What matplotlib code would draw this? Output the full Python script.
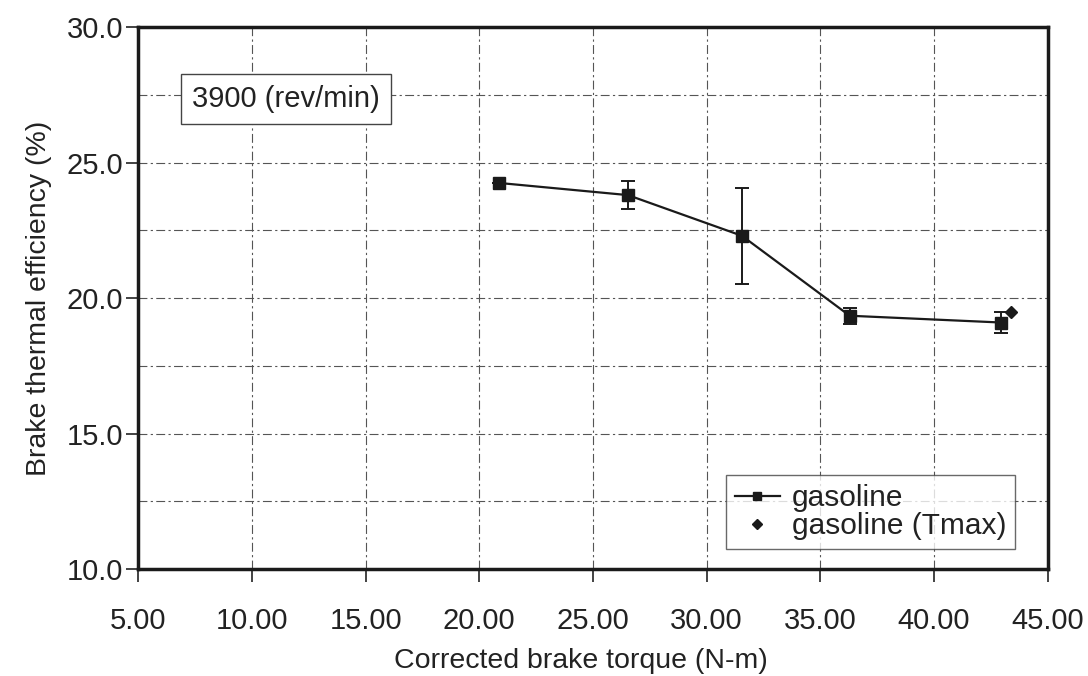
import matplotlib
matplotlib.use("Agg")
import matplotlib.pyplot as plt
from matplotlib.ticker import MultipleLocator, FormatStrFormatter
from matplotlib.lines import Line2D

plt.rcParams['font.family'] = ['Liberation Sans', 'DejaVu Sans']

torque = [20.85, 26.54, 31.55, 36.29, 42.94]
efficiency = [24.25, 23.80, 22.30, 19.35, 19.10]
err = [0.0, 0.53, 1.78, 0.30, 0.40]
tmax_torque = [43.38]
tmax_eff = [19.50]

xticks = [5, 10, 15, 20, 25, 30, 35, 40, 45]
yticks = [10, 15, 20, 25, 30]

fig = plt.figure(figsize=(10.88, 6.76), dpi=100)
ax = fig.add_axes([0.127, 0.158, 0.836, 0.802])

ax.errorbar(torque, efficiency, yerr=err, color='#1a1a1a', lw=1.6,
            marker='s', markersize=8, capsize=5, elinewidth=1.4,
            capthick=1.4, zorder=3)
ax.plot(tmax_torque, tmax_eff, linestyle='none', marker='D', markersize=6.5,
        color='#1a1a1a', zorder=3)

ax.set_xlim(5, 45)
ax.set_ylim(10, 30)
ax.set_xticks(xticks)
ax.set_yticks(yticks)
ax.xaxis.set_major_formatter(FormatStrFormatter('%.2f'))
ax.yaxis.set_major_formatter(FormatStrFormatter('%.1f'))
ax.yaxis.set_minor_locator(MultipleLocator(2.5))
ax.tick_params(axis='both', which='major', labelsize=21, direction='out',
               length=9, width=1.2, colors='#222222')
ax.tick_params(axis='x', which='major', pad=18)
ax.tick_params(axis='y', which='major', pad=2)
ax.tick_params(axis='y', which='minor', length=0)
ax.grid(True, which='major', axis='x', linestyle=(0, (8, 3, 2, 3)),
        color='#555555', lw=0.8)
ax.grid(True, which='both', axis='y', linestyle=(0, (8, 3, 2, 3)),
        color='#555555', lw=0.8)
for s in ax.spines.values():
    s.set_linewidth(2.5)
    s.set_color('#1a1a1a')

ax.set_xlabel('Corrected brake torque (N-m)', fontsize=20.5, color='#222222')
ax.xaxis.set_label_coords(0.487, -0.146)
ax.set_ylabel('Brake thermal efficiency (%)', fontsize=20.5, color='#222222',
              labelpad=10)

ax.text(11.5, 27.35, '3900 (rev/min)', fontsize=21, color='#222222',
        ha='center', va='center',
        bbox=dict(boxstyle='square,pad=0.38', fc='white', ec='#444444', lw=1))

handles = [
    Line2D([], [], color='#1a1a1a', lw=1.6, marker='s', markersize=6),
    Line2D([], [], color='#1a1a1a', linestyle='none', marker='D', markersize=5.5),
]
labels = ['gasoline', 'gasoline (Tmax)']
leg = ax.legend(handles, labels, loc='lower right',
                bbox_to_anchor=(0.964, 0.037), fontsize=21.5,
                frameon=True, fancybox=False, edgecolor='#444444',
                handlelength=1.5, handletextpad=0.4, borderpad=0.3,
                labelspacing=0.0, borderaxespad=0)
leg.get_frame().set_linewidth(1)
for t in leg.get_texts():
    t.set_color('#222222')

fig.savefig('out.png', dpi=100)
